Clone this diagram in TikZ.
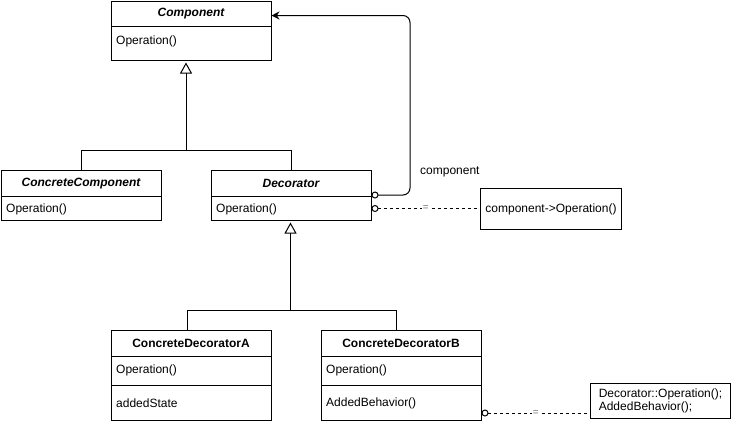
\documentclass[tikz,border=0pt]{standalone}
\usepackage{fontspec}
\setmainfont{Liberation Sans}
\usetikzlibrary{arrows.meta}
\begin{document}
\begin{tikzpicture}[x=1pt,y=-1pt,font=\fontsize{12}{14}\selectfont]
\tikzset{
 box/.style={draw, line width=1pt, rectangle, inner sep=0pt, anchor=north west, minimum width=160pt},
 hdr/.style={box, font=\fontsize{12}{14}\selectfont\bfseries\itshape},
 bhdr/.style={box, font=\fontsize{12}{14}\selectfont\bfseries},
 txt/.style={anchor=west, inner sep=0pt},
 conn/.style={line width=1pt},
 inh/.style={conn, -{Triangle[open,length=11pt,width=12pt]}, shorten >=1.5pt},
 assoc/.style={conn, {Circle[open,length=7pt,width=7pt]}-{Stealth[length=8pt,width=8pt]}, rounded corners=7pt},
 dep/.style={conn, dash pattern=on 3pt off 3pt, {Circle[open,length=7pt,width=7pt]}-},
 eqlabel/.style={font=\fontsize{10}{10}\selectfont, text=black!55, fill=white, inner sep=1pt}
}
\useasboundingbox (0,0) rectangle (731,424);

% Component
\node[hdr, minimum height=25pt] (compH) at (110.5,1) {Component};
\node[box, minimum height=34pt] (compB) at (110.5,26) {};
\node[txt] (compOp) at (116,41) {Operation()};

% ConcreteComponent
\node[hdr, minimum height=26pt] (ccH) at (0.5,170) {ConcreteComponent};
\node[box, minimum height=24pt] (ccB) at (0.5,196) {};
\node[txt] (ccOp) at (6,209) {Operation()};

% Decorator
\node[hdr, minimum height=26pt] (decH) at (210.5,170) {Decorator};
\node[box, minimum height=24pt] (decB) at (210.5,196) {};
\node[txt] (decOp) at (216,209) {Operation()};

% ConcreteDecoratorA
\node[bhdr, minimum height=26pt] (cdaH) at (110.5,330) {ConcreteDecoratorA};
\node[box, minimum height=29pt] (cdaB1) at (110.5,356) {};
\node[txt] (cdaOp) at (116,370) {Operation()};
\node[box, minimum height=35pt] (cdaB2) at (110.5,385) {};
\node[txt] (cdaSt) at (116,403) {addedState};

% ConcreteDecoratorB
\node[bhdr, minimum height=26pt] (cdbH) at (320.5,330) {ConcreteDecoratorB};
\node[box, minimum height=29pt] (cdbB1) at (320.5,356) {};
\node[txt] (cdbOp) at (326,370) {Operation()};
\node[box, minimum height=35pt] (cdbB2) at (320.5,385) {};
\node[txt] (cdbBe) at (326,403) {AddedBehavior()};

% Notes
\node[box, minimum width=141pt, minimum height=41pt] (n1) at (480,188) {component->Operation()};
\node[box, minimum width=140pt, minimum height=35pt, align=left, font=\fontsize{12}{12.5}\selectfont] (n2) at (590,383) {Decorator::Operation();\\AddedBehavior();};

% inheritance 1
\coordinate (j1) at (186,150);
\draw[conn] (ccH.north) |- (j1);
\draw[inh] (decH.north) |- (j1) -- (compB.south -| j1);

% inheritance 2
\coordinate (j2) at (290.5,310);
\draw[conn] ([xshift=-4pt]cdaH.north) |- (j2);
\draw[inh] ([xshift=-5pt]cdbH.north) |- (j2) -- (decB.south -| j2);

% association
\coordinate (bend) at (410,100);
\draw[assoc] ([yshift=2pt]decH.south east) -| (bend) |- ([yshift=-1.5pt]compH.east);
\node[txt] (lbl) at (420,172) {component};

% dependencies
\draw[dep] (decB.east) -- node[eqlabel] (eq1) {=} (decB.east -| n1.west);
\draw[dep] ([yshift=-10pt]cdbB2.east) -- node[eqlabel] (eq2) {=} ([yshift=-10pt]cdbB2.east -| n2.west);
\end{tikzpicture}
\end{document}
